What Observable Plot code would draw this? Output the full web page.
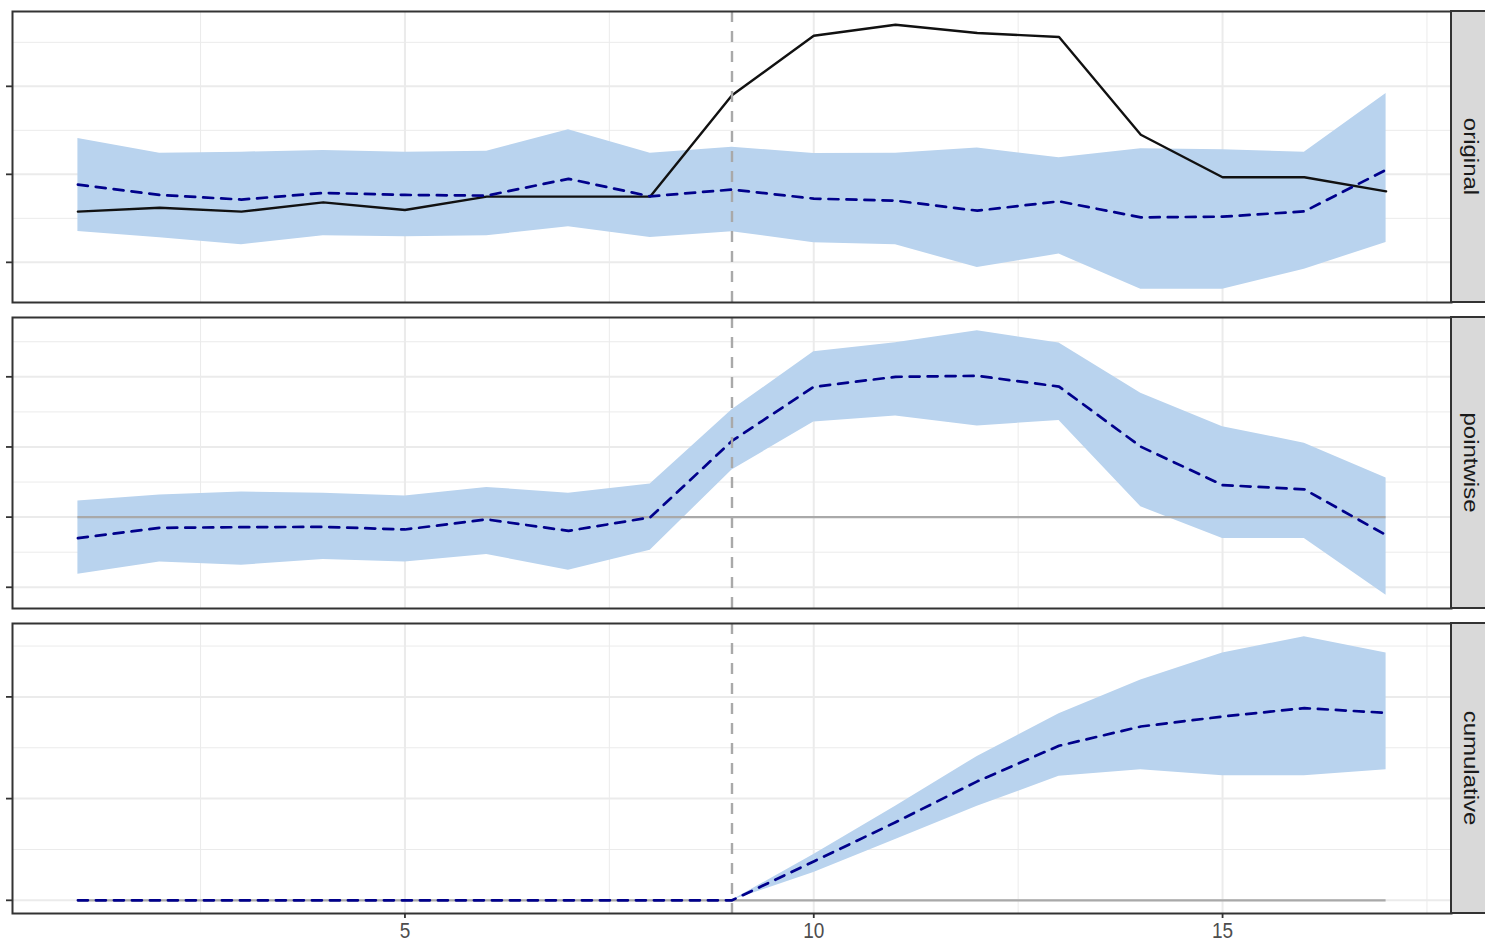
<!DOCTYPE html>
<html><head><meta charset="utf-8">
<script src="https://cdn.jsdelivr.net/npm/d3@7"></script>
<script src="https://cdn.jsdelivr.net/npm/@observablehq/plot@0.6"></script>
<style>
html,body{margin:0;padding:0;background:#fff;overflow:hidden;}
#chart svg{display:block;}
</style></head><body><div id="chart"></div>
<script>
// ---- data ----
const time = [1,2,3,4,5,6,7,8,9,10,11,12,13,14,15,16,17];
const interventionTime = 9;

// original
const response  = [15.76,16.21,15.76,16.82,15.95,17.47,17.47,17.47,28.99,35.75,37.00,36.06,35.60,24.50,19.67,19.67,18.07];
const predMean  = [18.84,17.66,17.13,17.89,17.66,17.58,19.49,17.50,18.27,17.24,17.01,15.87,16.93,15.11,15.19,15.79,20.51];
const predUpper = [24.08,22.41,22.52,22.71,22.52,22.63,25.07,22.41,23.09,22.37,22.41,22.98,21.88,22.91,22.79,22.52,29.18];
const predLower = [13.51,12.79,12.00,13.02,12.91,13.02,14.05,12.83,13.48,12.22,12.00, 9.41,10.94, 6.94, 6.94, 9.22,12.26];

// pointwise
const pointMean  = [-3.00,-1.53,-1.43,-1.39,-1.76,-0.33,-1.96,-0.04,10.86,18.57,20.00,20.14,18.61,10.04, 4.57, 3.96, -2.57];
const pointUpper = [ 2.29, 3.14, 3.57, 3.39, 3.00, 4.24, 3.39, 4.71,15.29,23.57,24.86,26.57,24.81,17.67,12.90,10.53,  5.57];
const pointLower = [-8.14,-6.39,-6.86,-6.04,-6.39,-5.33,-7.57,-4.71, 6.71,13.57,14.43,13.00,13.76, 1.47,-3.04,-3.04,-11.14];

// cumulative
const cumMean  = [0,0,0,0,0,0,0,0,0,19.12,38.38,58.48,75.98,85.44, 90.34, 94.46, 92.16];
const cumUpper = [0,0,0,0,0,0,0,0,0,22.55,46.23,70.74,91.67,108.3,121.6,129.6,121.6];
const cumLower = [0,0,0,0,0,0,0,0,0,13.73,29.90,46.23,60.93,64.22, 61.28, 61.28, 64.22];

const panelNames = ["original", "pointwise", "cumulative"];
const xTicks = [5, 10, 15];
const xMinor = [2.5, 7.5, 12.5, 17.5];
const yTicksOriginal = [10, 20, 30];
const yMinorOriginal = [15, 25, 35];
const yTicksPointwise = [-10, 0, 10, 20];
const yMinorPointwise = [-5, 5, 15, 25];
const yTicksCumulative = [0, 50, 100];
const yMinorCumulative = [25, 75, 125];

// ---- helpers ----
function expand(lo, hi) { const d = (hi - lo) * 0.05; return [lo - d, hi + d]; }
const xDomain = expand(d3.min(time), d3.max(time));
const W = 1485, ML = 12, MR = 34;
const FONT = "'Liberation Sans', Arial, Helvetica, sans-serif";

function panel({name, mean, lower, upper, resp, baseline, yTicks, yMinor, showX, height, mt, mb}) {
  const rows = time.map((t, i) => ({t, mean: mean[i], lo: lower[i], hi: upper[i], resp: resp ? resp[i] : null}));
  const vals = [...lower, ...upper, ...mean, ...(resp || []), ...(baseline ? [0] : [])];
  const yDomain = expand(d3.min(vals), d3.max(vals));
  const inY = v => v > yDomain[0] && v < yDomain[1];
  const marks = [
    Plot.ruleX(xMinor.filter(v => v > xDomain[0] && v < xDomain[1]), {stroke: "#ebebeb", strokeWidth: 1}),
    Plot.ruleY(yMinor.filter(inY), {stroke: "#ebebeb", strokeWidth: 1}),
    Plot.ruleX(xTicks, {stroke: "#ebebeb", strokeWidth: 2}),
    Plot.ruleY(yTicks.filter(inY), {stroke: "#ebebeb", strokeWidth: 2}),
    Plot.areaY(rows, {x: "t", y1: "lo", y2: "hi", fill: "#B9D3EE", curve: "linear"}),
  ];
  if (baseline) marks.push(Plot.ruleY([0], {x1: d3.min(time), x2: d3.max(time), stroke: "#a9a9a9", strokeWidth: 2.2}));
  if (resp) marks.push(Plot.line(rows, {x: "t", y: "resp", stroke: "#111", strokeWidth: 2.4}));
  marks.push(Plot.line(rows, {x: "t", y: "mean", stroke: "#00008B", strokeWidth: 2.7, strokeDasharray: "10,8"}));
  marks.push(Plot.ruleX([interventionTime], {stroke: "#a9a9a9", strokeWidth: 2.4, strokeDasharray: "11,9"}));
  marks.push(Plot.frame({stroke: "#333", strokeWidth: 2}));
  marks.push(Plot.axisY(yTicks.filter(inY), {tickSize: 6, stroke: "#333", strokeWidth: 1.8, fill: "none", label: null}));
  if (showX) {
    marks.push(Plot.axisX(xTicks, {tickSize: 5, stroke: "#333", strokeWidth: 1.8, fill: "#4d4d4d", fontSize: 19, tickPadding: 4, label: null}));
  }
  const svg = Plot.plot({
    width: W, height,
    marginLeft: ML, marginRight: MR, marginTop: mt, marginBottom: mb,
    style: {fontFamily: FONT, background: "#fff", overflow: "hidden"},
    x: {domain: xDomain, axis: showX ? undefined : null},
    y: {domain: yDomain},
    marks
  });
  const s = d3.select(svg);
  // slightly taller tick labels, as in the reference
  s.selectAll('g[aria-label="x-axis tick label"] text').each(function() {
    const t = this.getAttribute("transform") || "";
    this.setAttribute("transform", t + " scale(1,1.15)");
  });
  // facet strip on the right
  const y0 = mt, y1 = height - mb;
  s.append("rect").attr("x", W - MR).attr("y", y0).attr("width", 44).attr("height", y1 - y0)
    .attr("fill", "#d9d9d9").attr("stroke", "#333").attr("stroke-width", 2);
  s.append("text").attr("transform", `translate(${W - MR + 20},${(y0 + y1) / 2}) rotate(90) scale(1.2,1)`)
    .attr("text-anchor", "middle").attr("dominant-baseline", "central")
    .attr("font-size", 20).attr("fill", "#1a1a1a").attr("font-family", FONT).text(name);
  return svg;
}

const chart = document.getElementById("chart");
chart.appendChild(panel({name: panelNames[0], mean: predMean, lower: predLower, upper: predUpper, resp: response,
  baseline: false, yTicks: yTicksOriginal, yMinor: yMinorOriginal, showX: false, height: 310, mt: 11, mb: 8}));
chart.appendChild(panel({name: panelNames[1], mean: pointMean, lower: pointLower, upper: pointUpper, resp: null,
  baseline: true, yTicks: yTicksPointwise, yMinor: yMinorPointwise, showX: false, height: 306, mt: 7, mb: 8}));
chart.appendChild(panel({name: panelNames[2], mean: cumMean, lower: cumLower, upper: cumUpper, resp: null,
  baseline: true, yTicks: yTicksCumulative, yMinor: yMinorCumulative, showX: true, height: 329, mt: 7, mb: 32}));
</script></body></html>
